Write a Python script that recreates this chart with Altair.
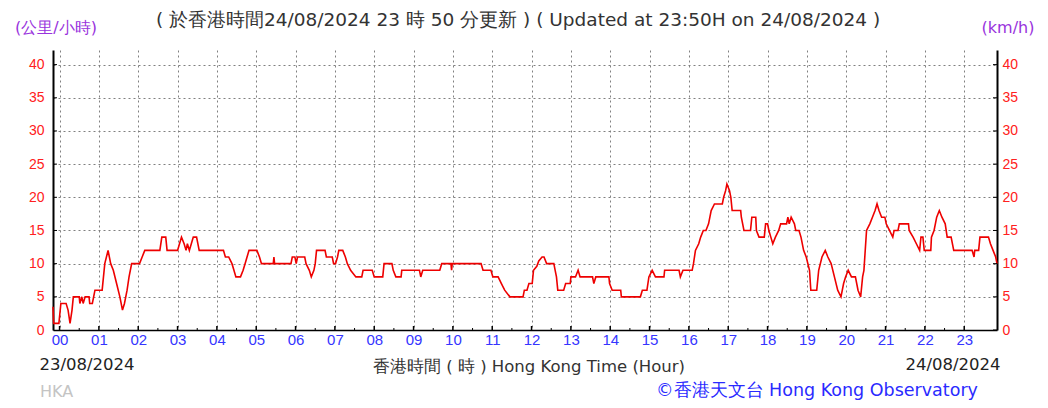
import altair as alt
import pandas as pd

# minutes from 00:00 23/08/2024 (negative = previous day), wind speed km/h
minutes = [-10, -9, -1, 2, 10, 13, 16, 19, 21, 30, 31, 34, 36, 39, 45, 46, 50, 52, 54, 65,
           69, 74, 78, 82, 87, 92, 96, 99, 103, 106, 110, 122, 126, 130, 153, 156, 162, 164, 180, 183,
           186, 190, 193, 195, 198, 201, 204, 209, 213, 250, 253, 258, 263, 266, 269, 276, 280, 283, 286, 289,
           301, 305, 308, 326, 327, 328, 353, 355, 359, 361, 363, 374, 376, 381, 384, 388, 390, 392, 405, 407,
           416, 418, 421, 424, 426, 432, 436, 439, 444, 452, 461, 463, 477, 480, 493, 495, 507, 509, 513, 521,
           522, 549, 551, 554, 580, 583, 597, 598, 599, 643, 646, 658, 661, 669, 674, 679, 687, 707, 709, 713,
           716, 721, 723, 728, 731, 736, 739, 743, 754, 756, 758, 760, 769, 772, 779, 780, 787, 791, 794, 813,
           815, 818, 838, 839, 843, 856, 857, 886, 889, 896, 899, 904, 909, 922, 923, 945, 947, 951, 965, 967,
           970, 975, 978, 982, 986, 990, 994, 999, 1011, 1013, 1016, 1018, 1022, 1024, 1026, 1039, 1040, 1044, 1054, 1056,
           1062, 1063, 1067, 1075, 1077, 1080, 1082, 1085, 1088, 1092, 1097, 1100, 1109, 1111, 1113, 1116, 1121, 1123, 1128, 1131,
           1135, 1139, 1144, 1146, 1155, 1158, 1163, 1168, 1172, 1177, 1182, 1187, 1192, 1196, 1199, 1203, 1208, 1214, 1218, 1222,
           1225, 1227, 1231, 1236, 1240, 1244, 1247, 1250, 1254, 1259, 1261, 1266, 1271, 1273, 1279, 1281, 1295, 1296, 1302, 1307,
           1312, 1314, 1317, 1319, 1329, 1330, 1334, 1338, 1342, 1346, 1351, 1354, 1360, 1364, 1392, 1395, 1396, 1402, 1404, 1417,
           1420, 1424, 1428, 1430]
speeds = [3.5, 1, 1, 4, 4, 3, 1, 3, 5, 5, 4, 5, 4, 5, 5, 4, 4, 5, 6, 6,
          10, 12, 10, 9, 7, 5, 3, 4, 6, 8, 10, 10, 11, 12, 12, 14, 14, 12, 12, 13,
          14, 13, 12, 13, 12, 13, 14, 14, 12, 12, 11, 11, 10, 9, 8, 8, 9, 10, 11, 12,
          12, 11, 10, 10, 11, 10, 10, 11, 11, 10, 11, 11, 10, 9, 8, 9, 10, 12, 12, 11,
          11, 10, 10, 11, 12, 12, 11, 10, 9, 8, 8, 9, 9, 8, 8, 10, 10, 9, 8, 8,
          9, 9, 8, 9, 9, 10, 10, 9, 10, 10, 9, 9, 8, 8, 7, 6, 5, 5, 6, 6,
          7, 7, 9, 9.6, 10.4, 11, 11, 10, 10, 9, 8, 6, 6, 7, 7, 8, 8, 9, 8, 8,
          7, 8, 8, 7, 6, 6, 5, 5, 6, 6, 8, 9, 8, 8, 9, 9, 8, 9, 9, 10,
          12, 13, 14, 15, 15, 16, 18, 19, 19, 20, 21, 22, 21, 20, 18, 18, 17, 15, 15, 17,
          17, 15, 14, 14, 16, 16, 15, 14, 13, 14, 15, 16, 16, 17, 16, 17, 16, 15, 15, 14,
          12, 11, 9, 6, 6, 9, 11, 12, 11, 10, 8, 6, 5, 7, 8, 9, 8, 8, 6, 5,
          8, 9, 15, 16, 17, 18, 19, 18, 17, 17, 16, 15, 14, 15, 15, 16, 16, 15, 14, 13,
          12, 14, 14, 12, 12, 14, 15, 17, 18, 17, 16, 14, 14, 12, 12, 11, 12, 12, 14, 14,
          13, 12, 11, 10]

hour_ticks = list(range(0, 24))
half_ticks = [h + 0.5 for h in range(0, 24)][:-1]
y_ticks = [0, 5, 10, 15, 20, 25, 30, 35, 40]

title_text = "( 於香港時間24/08/2024 23 時 50 分更新 ) ( Updated at 23:50H on 24/08/2024 )"
unit_left = "(公里/小時)"
unit_right = "(km/h)"
date_left = "23/08/2024"
date_right = "24/08/2024"
x_title = "香港時間 ( 時 ) Hong Kong Time (Hour)"
credit = "©香港天文台 Hong Kong Observatory"
station = "HKA"

W, H = 944, 280
XDOM = [-1 / 6, 23 + 5 / 6]
YDOM = [0, 42.2]
RED = "#ff2020"
BLUE = "#3535ff"
PURPLE = "#9933dd"
GRID = dict(grid=True, gridColor="#808080", gridDash=[2, 3], gridWidth=1)

df = pd.DataFrame({"hour": [m / 60 for m in minutes], "speed": speeds})

xscale = alt.Scale(domain=XDOM, nice=False, zero=False)
yscale = alt.Scale(domain=YDOM, nice=False, zero=False)

line = alt.Chart(df).mark_line(color="#ee0000", strokeWidth=1.6).encode(
    x=alt.X("hour:Q", scale=xscale,
            axis=alt.Axis(values=hour_ticks, title=None, ticks=False,
                          labelExpr="datum.value < 10 ? '0' + datum.value : '' + datum.value",
                          labelColor=BLUE, labelFontSize=15, labelFont="Liberation Sans",
                          labelPadding=2, labelFlush=False,
                          domainColor="black", domainWidth=1.5, **GRID)),
    y=alt.Y("speed:Q", scale=yscale,
            axis=alt.Axis(values=y_ticks, title=None, ticks=False, orient="left",
                          labelColor=RED, labelFontSize=14, labelFont="Liberation Sans",
                          labelPadding=9, domainColor="black", domainWidth=2, **GRID)),
)

ydf = pd.DataFrame({"v": y_ticks[1:]})
left_ticks = alt.Chart(ydf).mark_rule(color="black", strokeWidth=1).encode(
    y=alt.Y("v:Q", scale=yscale, axis=None), x=alt.value(0), x2=alt.value(4))
right_ticks = alt.Chart(pd.DataFrame({"v": y_ticks})).mark_rule(color="black", strokeWidth=1).encode(
    y=alt.Y("v:Q", scale=yscale,
            axis=alt.Axis(values=y_ticks, title=None, ticks=False, orient="right", grid=False,
                          labelColor=RED, labelFontSize=14, labelFont="Liberation Sans",
                          labelPadding=5, domainColor="black", domainWidth=2)),
    x=alt.value(W - 4), x2=alt.value(W))

bottom_major = alt.Chart(pd.DataFrame({"h": hour_ticks})).mark_rule(color="black", strokeWidth=1.5).encode(
    x=alt.X("h:Q", scale=xscale), y=alt.value(H), y2=alt.value(H - 4))
bottom_minor = alt.Chart(pd.DataFrame({"h": half_ticks})).mark_rule(color="black", strokeWidth=1).encode(
    x=alt.X("h:Q", scale=xscale), y=alt.value(H), y2=alt.value(H - 2))


def txt(s, x, y, size, color, align="center", font="DejaVu Sans"):
    return alt.Chart(pd.DataFrame({"t": [s]})).mark_text(
        align=align, baseline="middle", fontSize=size, color=color, font=font
    ).encode(text="t:N", x=alt.value(x), y=alt.value(y))


texts = [
    txt(title_text, 465, -30, 18.5, "#333333"),
    txt(unit_left, 3, -22, 16, PURPLE),
    txt(unit_right, 955, -22, 16, PURPLE),
    txt(date_left, 34, 315, 16.5, "#222222"),
    txt(x_title, 476, 317, 16.5, "#333333"),
    txt(date_right, 900, 315, 16.5, "#222222"),
    txt(credit, 764, 341, 17.5, "#2a2aff"),
    txt(station, -13, 342, 16, "#c4c4c4", align="left"),
]

chart = alt.layer(line, left_ticks, right_ticks, bottom_major, bottom_minor, *texts).resolve_scale(
    y="independent"
).properties(
    width=W, height=H,
    padding={"left": 45, "top": 42, "right": 43, "bottom": 70},
    autosize=alt.AutoSizeParams(type="none"),
    background="white",
).configure_view(stroke=None)

chart.save("out.html", embed_options={"renderer": "svg", "actions": False})
